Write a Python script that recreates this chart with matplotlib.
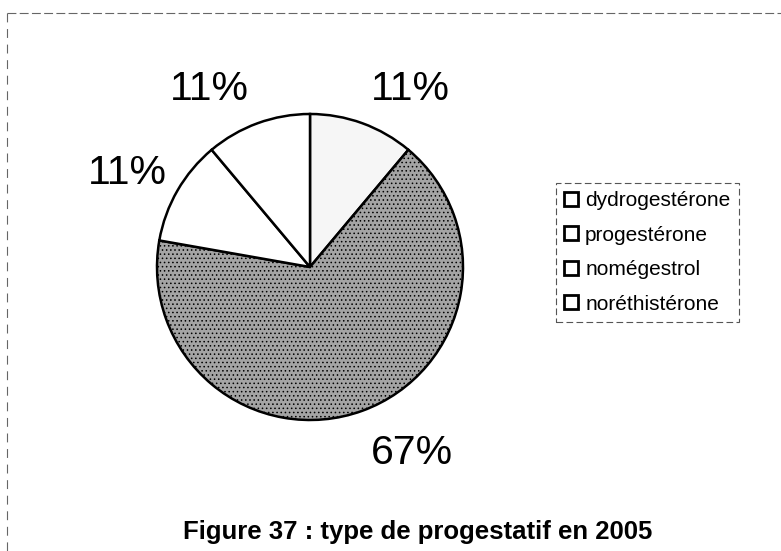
import numpy as np
import matplotlib
matplotlib.use("Agg")
import matplotlib.pyplot as plt
from matplotlib.patches import Patch
from matplotlib.lines import Line2D

# type de progestatif en 2005 (nombre de patientes)
categories = ["dydrogestérone", "progestérone", "nomégestrol", "noréthistérone"]
counts = [1, 6, 1, 1]
title = "Figure 37 : type de progestatif en 2005"

plt.rcParams['font.family'] = ['Liberation Sans', 'DejaVu Sans']
plt.rcParams['hatch.color'] = '#5a5a5a'
plt.rcParams['hatch.linewidth'] = 0.6

W, H, DPI = 781, 551, 100
fig = plt.figure(figsize=(W / DPI, H / DPI), dpi=DPI)

# pie centre and radius in pixels
cx, cy, R = 310, 267, 153
ax = fig.add_axes([0, 0, 1, 1])
wedges, _ = ax.pie(counts, startangle=90, counterclock=False,
                   colors=['#f6f6f6', '#a4a4a4', 'white', 'white'],
                   wedgeprops=dict(edgecolor='black', linewidth=1.8))
wedges[1].set_hatch('....')
ax.set_aspect('auto')
ax.set_xlim(-cx / R, (W - cx) / R)
ax.set_ylim(-(H - cy) / R, cy / R)
ax.axis('off')

# percentage labels, anchored by their inner corner on the wedge bisector
total = sum(counts)
for w, c in zip(wedges, counts):
    mid = np.deg2rad((w.theta1 + w.theta2) / 2)
    dx, dy = np.cos(mid), np.sin(mid)
    r = 1.16 if abs(dx) < 0.7 else 1.08
    ax.text(r * dx, r * dy, f"{100 * c / total:.0f}%", fontsize=29.5,
            ha='left' if dx > 0 else 'right',
            va='baseline' if dy > 0 else 'top')

handles = [Patch(facecolor='white', edgecolor='black', linewidth=2.0) for _ in categories]
leg = fig.legend(handles, categories, loc='upper left',
                 bbox_to_anchor=(556 / W, 1 - 183 / H), fontsize=15,
                 handlelength=0.65, handleheight=0.65, handletextpad=0.35,
                 labelspacing=0.74, borderpad=0.4, borderaxespad=0,
                 fancybox=False, framealpha=1)
frame = leg.get_frame()
frame.set_edgecolor('#555555')
frame.set_linewidth(0.8)
frame.set_linestyle((0, (6, 3)))

# dashed outline of the chart area
fig.add_artist(Line2D([7 / W, 1], [1 - 13 / H, 1 - 13 / H], color='#666666',
                      lw=0.8, ls=(0, (8, 3))))
fig.add_artist(Line2D([7 / W, 7 / W], [1 - 13 / H, 0], color='#666666',
                      lw=0.8, ls=(0, (8, 6))))

fig.text(418 / W, 1 - 539 / H, title, fontsize=18.5, fontweight='bold',
         ha='center', va='baseline')

fig.savefig('out.png', dpi=DPI)
